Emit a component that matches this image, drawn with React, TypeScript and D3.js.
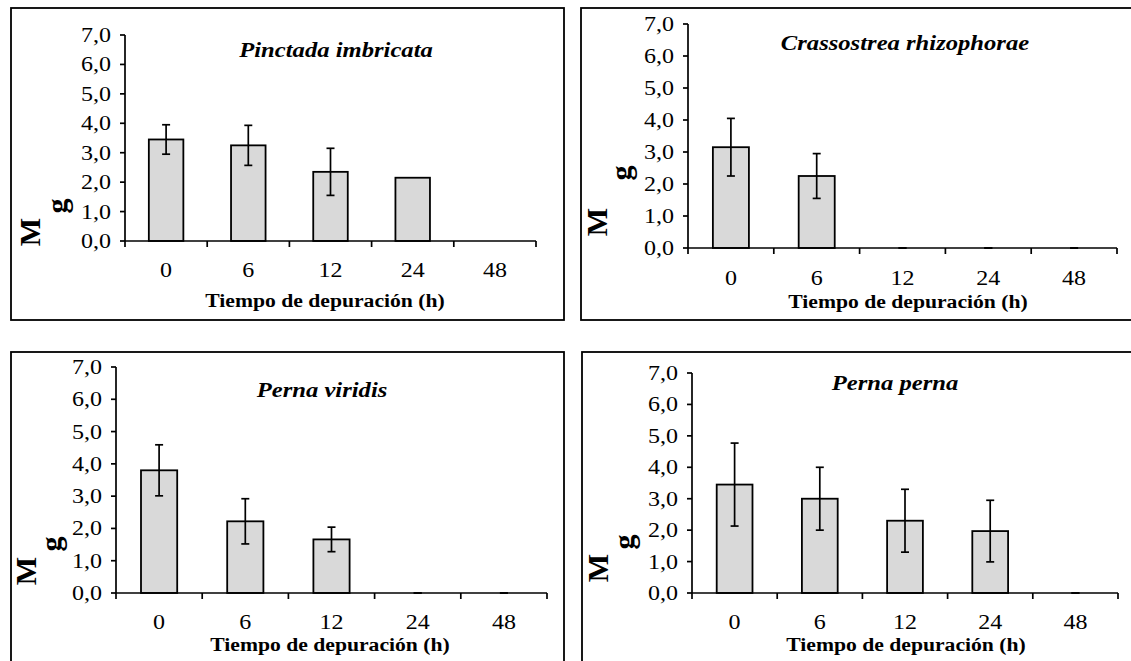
import React from "react";
import * as d3 from "d3";

const CATEGORIES = ["0", "6", "12", "24", "48"];
const Y_TICKS = [0, 1, 2, 3, 4, 5, 6, 7];
const Y_MAX = 7;
const SPECIES = ["Pinctada imbricata", "Crassostrea rhizophorae", "Perna viridis", "Perna perna"];
const PINCTADA_MEANS = [3.45, 3.25, 2.35, 2.15, 0];
const PINCTADA_ERRORS: (number | null)[] = [0.5, 0.68, 0.8, null, null];
const CRASSOSTREA_MEANS = [3.15, 2.25, 0, 0, 0];
const CRASSOSTREA_ERRORS: (number | null)[] = [0.9, 0.7, 0, 0, 0];
const VIRIDIS_MEANS = [3.8, 2.22, 1.66, 0, 0];
const VIRIDIS_ERRORS: (number | null)[] = [0.79, 0.7, 0.38, 0, 0];
const PERNA_MEANS = [3.45, 3.0, 2.3, 1.97, 0];
const PERNA_ERRORS: (number | null)[] = [1.32, 1.0, 1.0, 0.98, 0];
const X_TITLE = "Tiempo de depuración (h)";
const Y_LABEL_A = "M";
const Y_LABEL_B = "g";

const SERIES = [
  { means: PINCTADA_MEANS, errors: PINCTADA_ERRORS },
  { means: CRASSOSTREA_MEANS, errors: CRASSOSTREA_ERRORS },
  { means: VIRIDIS_MEANS, errors: VIRIDIS_ERRORS },
  { means: PERNA_MEANS, errors: PERNA_ERRORS },
];

// layout only
const LAYOUT = [
  { box: [11, 8, 564, 320], plot: [125, 35, 536, 241], title: [336, 57], tickY: 277, xTitle: [325, 307], labA: [29, 232], labB: [59, 206] },
  { box: [581, 8, 1140, 320], plot: [688, 24, 1117, 248], title: [905, 50], tickY: 285, xTitle: [908, 308], labA: [596, 222], labB: [623, 173] },
  { box: [11, 352, 564, 700], plot: [116, 367, 547, 593], title: [322, 397], tickY: 629, xTitle: [330, 651], labA: [25, 571], labB: [53, 544] },
  { box: [582, 352, 1140, 700], plot: [692, 373, 1118, 593], title: [895, 390], tickY: 629, xTitle: [906, 651], labA: [597, 568], labB: [626, 542] },
];

const FONT = "Liberation Serif, DejaVu Serif, serif";

function T({ x, y, sx = 1.2, anchor = "middle", size = 20, weight = "normal", italic = false, dy = "0", children }: any) {
  return (
    <text transform={`translate(${x},${y}) scale(${sx},1)`} textAnchor={anchor} dy={dy}
      style={{ fontFamily: FONT }} fontSize={size} fontWeight={weight} fontStyle={italic ? "italic" : "normal"}>
      {children}
    </text>
  );
}

function Panel({ idx }: { idx: number }) {
  const L = LAYOUT[idx];
  const S = SERIES[idx];
  const [x0, y0, x1, y1] = L.plot;
  const x = d3.scaleBand<string>().domain(CATEGORIES).range([x0, x1]).padding(0);
  const y = d3.scaleLinear().domain([0, Y_MAX]).range([y1, y0]);
  const bw = x.bandwidth() * 0.42;
  const cap = 4;
  const bounds = d3.range(CATEGORIES.length + 1).map((i) => x0 + i * x.step());
  const [bx0, by0, bx1, by1] = L.box;
  return (
    <g>
      <rect x={bx0} y={by0} width={bx1 - bx0} height={by1 - by0} fill="white" stroke="#000" strokeWidth={1.8} />
      {S.means.map((v, i) =>
        v > 0 ? (
          <rect key={"b" + i} x={x(CATEGORIES[i])! + x.bandwidth() / 2 - bw / 2} y={y(v)} width={bw} height={y(0) - y(v)}
            fill="#d9d9d9" stroke="#000" strokeWidth={1.8} />
        ) : null
      )}
      {S.errors.map((e, i) => {
        if (e === null) return null;
        const cx = x(CATEGORIES[i])! + x.bandwidth() / 2;
        const v = S.means[i];
        const top = y(v + e);
        const bot = y(Math.max(0, v - e));
        return (
          <g key={"e" + i} stroke="#000" strokeWidth={1.7}>
            <line x1={cx} x2={cx} y1={top} y2={bot} />
            <line x1={cx - cap} x2={cx + cap} y1={top} y2={top} />
            <line x1={cx - cap} x2={cx + cap} y1={bot} y2={bot} />
          </g>
        );
      })}
      <line x1={x0} x2={x0} y1={y(Y_MAX)} y2={y(0)} stroke="#000" strokeWidth={1.7} />
      {Y_TICKS.map((t) => (
        <g key={"yt" + t}>
          <line x1={x0 - 5} x2={x0} y1={y(t)} y2={y(t)} stroke="#000" strokeWidth={1.7} />
          <T x={x0 - 14} y={y(t)} dy="0.35em" anchor="end">
            {d3.format(".1f")(t).replace(".", ",")}
          </T>
        </g>
      ))}
      <line x1={x0} x2={x1} y1={y(0)} y2={y(0)} stroke="#000" strokeWidth={1.7} />
      {bounds.map((bx, i) => (
        <line key={"xt" + i} x1={bx} x2={bx} y1={y(0)} y2={y(0) + 6} stroke="#000" strokeWidth={1.7} />
      ))}
      {CATEGORIES.map((c) => (
        <T key={"xl" + c} x={x(c)! + x.bandwidth() / 2} y={L.tickY}>
          {c}
        </T>
      ))}
      <T x={L.xTitle[0]} y={L.xTitle[1]} sx={1.14} size={19} weight="bold">
        {X_TITLE}
      </T>
      <T x={L.title[0]} y={L.title[1]} sx={1.12} size={22} weight="bold" italic>
        {SPECIES[idx]}
      </T>
      <text transform={`translate(${L.labA[0]},${L.labA[1]}) rotate(-90)`} textAnchor="middle" dy="0.35em"
        style={{ fontFamily: FONT }} fontSize={30} fontWeight="bold">
        {Y_LABEL_A}
      </text>
      <text transform={`translate(${L.labB[0]},${L.labB[1]}) rotate(-90)`} textAnchor="middle" dy="0.25em"
        style={{ fontFamily: FONT }} fontSize={30} fontWeight="bold">
        {Y_LABEL_B}
      </text>
    </g>
  );
}

export default function App() {
  return (
    <svg width={1131} height={661} style={{ position: "absolute", left: 0, top: 0, background: "white" }}>
      <rect x={0} y={0} width={1131} height={661} fill="white" />
      {SERIES.map((_, i) => (
        <Panel key={i} idx={i} />
      ))}
    </svg>
  );
}
